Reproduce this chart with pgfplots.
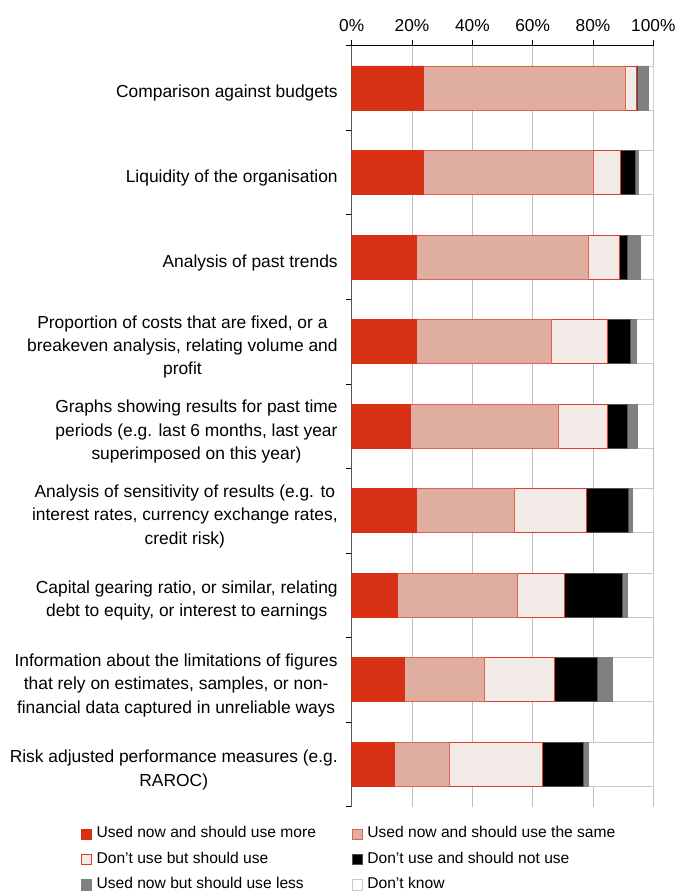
\documentclass[border=0pt]{standalone}
\usepackage{fontspec}
\setmainfont{Liberation Sans}
\usepackage{pgfplots}
\pgfplotsset{compat=1.18}
\usepackage{pgfplotstable}

\definecolor{cRed}{RGB}{216,48,20}
\definecolor{cPink}{RGB}{224,174,160}
\definecolor{cPinkEdge}{RGB}{226,100,80}
\definecolor{cLight}{RGB}{242,234,230}
\definecolor{cLightEdge}{RGB}{222,62,40}
\definecolor{cBlackEdge}{RGB}{80,80,80}
\definecolor{cGray}{RGB}{128,128,128}
\definecolor{cDKEdge}{RGB}{200,200,200}
\definecolor{cGrid}{RGB}{190,190,190}

\pgfplotstableread{
y a b c d e f
8 23.7 67.0 3.6 0.5 3.5 1.7
7 23.7 56.6 8.9 4.8 1.1 4.9
6 21.5 57.1 10.1 2.6 4.5 4.2
5 21.5 44.8 18.4 7.6 2.0 5.7
4 19.3 49.3 16.1 6.6 3.3 5.4
3 21.5 32.5 23.7 14.2 1.3 6.8
2 15.3 39.8 15.5 19.1 1.7 8.6
1 17.6 26.5 23.2 14.1 5.2 13.4
0 14.3 18.0 30.9 13.6 1.6 21.6
}\datatable

\pgfplotsset{
  sq/.style={legend image code/.code={\draw[##1, line width=0.8pt] (0.4pt,-5.2pt) rectangle (10.6pt,5.2pt);}}
}

\begin{document}
\begin{tikzpicture}
\path[use as bounding box] (-351.7pt,-84.3pt) rectangle (326.3pt,806.7pt);
\begin{axis}[
  at={(0,0)}, anchor=south west,
  scale only axis, width=301.6pt, height=761pt,
  xbar stacked, bar width=0.52,
  xmin=0, xmax=100, ymin=-0.5, ymax=8.5,
  axis x line*=top, axis y line*=left,
  x axis line style={black, line width=0.8pt},
  y axis line style={black!65, line width=1.4pt},
  tick align=outside, major tick length=5.5pt,
  xtick={0,20,40,60,80,100},
  xticklabels={0\%,20\%,40\%,60\%,80\%,100\%},
  xticklabel style={font=\fontsize{17.3}{20}\selectfont, yshift=5pt},
  xtick style={black, line width=0.8pt},
  ytick style={black, line width=0.8pt},
  xmajorgrids, major x grid style={cGrid, line width=0.8pt},
  ytick={-0.5,0.5,...,8.5}, yticklabels={},
  extra y ticks={0,1,2,3,4,5,6,7,8},
  extra y tick style={major tick length=0pt},
  extra y tick labels={
    {Risk adjusted performance measures (e.g.\\RAROC)},
    {Information about the limitations of figures\\that rely on estimates, samples, or non-\\financial data captured in unreliable ways},
    {Capital gearing ratio, or similar, relating\\debt to equity, or interest to earnings},
    {Analysis of sensitivity of results (e.g. to\\interest rates, currency exchange rates,\\credit risk)},
    {Graphs showing results for past time\\periods (e.g. last 6 months, last year\\superimposed on this year)},
    {Proportion of costs that are fixed, or a\\breakeven analysis, relating volume and\\profit},
    {Analysis of past trends},
    {Liquidity of the organisation},
    {Comparison against budgets}
  },
  yticklabel style={font=\fontsize{17.4}{23.3}\selectfont, align=center, xshift=-10.5pt, yshift=-5.5pt},
  legend columns=2,
  legend style={at={(axis description cs:-0.8976,-0.0264)}, anchor=north west,
    draw=none, fill=none, inner sep=0pt,
    font=\fontsize{15.6}{18}\selectfont,
    nodes={inner sep=0pt, text height=11pt, text depth=3.5pt},
    cells={anchor=west},
    row sep=10.8pt,
    /tikz/every odd column/.append style={column sep=4.4pt},
    /tikz/every even column/.append style={column sep=36pt}},
]
\addplot[sq, fill=cRed, draw=cRed, line width=0.8pt] table[x=a, y=y] {\datatable};
\addlegendentry{Used now and should use more}
\addplot[sq, fill=cPink, draw=cPinkEdge, line width=0.8pt] table[x=b, y=y] {\datatable};
\addlegendentry{Used now and should use the same}
\addplot[sq, fill=cLight, draw=cLightEdge, line width=0.8pt] table[x=c, y=y] {\datatable};
\addlegendentry{Don’t use but should use}
\addplot[sq, fill=black, draw=cBlackEdge, line width=0.8pt] table[x=d, y=y] {\datatable};
\addlegendentry{Don’t use and should not use}
\addplot[sq, fill=cGray, draw=cGray, line width=0.8pt] table[x=e, y=y] {\datatable};
\addlegendentry{Used now but should use less}
\addplot[sq, fill=white, draw=cDKEdge, line width=0.8pt] table[x=f, y=y] {\datatable};
\addlegendentry{Don't know}
\end{axis}
\end{tikzpicture}
\end{document}
